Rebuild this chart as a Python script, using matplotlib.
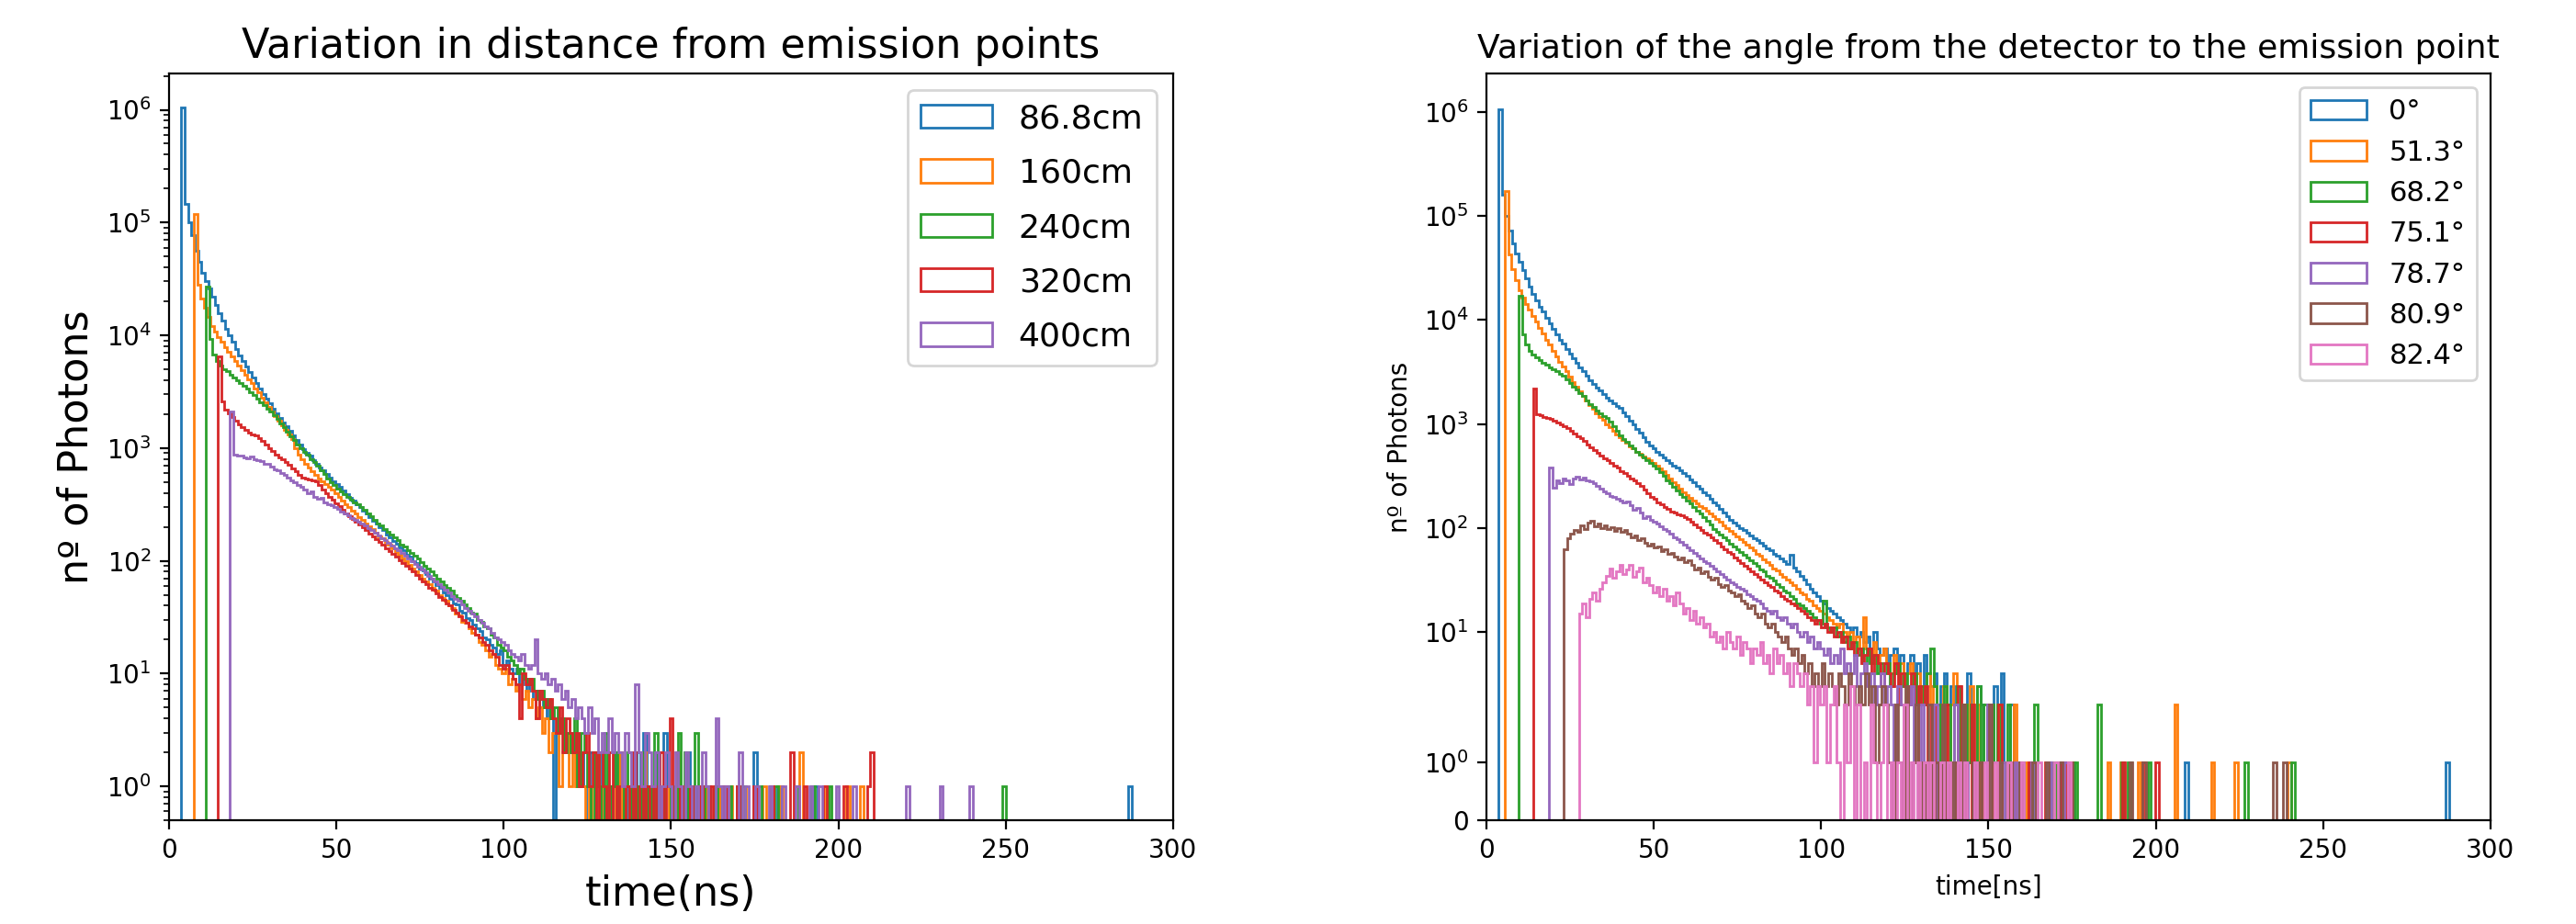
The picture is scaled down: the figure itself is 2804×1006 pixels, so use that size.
import numpy as np
import matplotlib
matplotlib.use("Agg")
import matplotlib.pyplot as plt

# ---------------------------------------------------------------------------
# Photon arrival-time histograms, 1 ns bins.
# Each series: arrival time of the first bin (ns), per-bin counts of the
# dense part, and (time, count) pairs for the sparse late tail.
# ---------------------------------------------------------------------------

# ----- distance scan -----
dist_labels = ["86.8cm", "160cm", "240cm", "320cm", "400cm"]
dist_t0 = [3.7, 7.4, 11.0, 14.55, 18.2]

dist_868 = [1050000, 145000, 100000, 78000, 56000, 45000, 36000, 30000, 26000, 22000,
            18600, 15800, 13500, 11500, 10000, 8700, 7600, 6600, 5900, 5250,
            4700, 4200, 3800, 3400, 3000, 2750, 2500, 2250, 2050, 1860,
            1700, 1550, 1410, 1290, 1170, 1070, 980, 910, 850, 780,
            720, 670, 630, 590, 550, 510, 480, 450, 420, 390,
            365, 340, 320, 300, 280, 262, 245, 228, 212, 198,
            186, 172, 163, 150, 142, 131, 124, 114, 108, 100,
            95, 86, 82, 76, 70, 66, 61, 58, 52, 50,
            46, 42, 41, 36, 35, 31, 30, 27, 25, 24,
            21, 20, 18, 17, 15, 16, 12, 13, 11, 10,
            11, 8, 9, 7, 8, 6, 7, 5, 6, 4,
            5, 0, 3, 4, 2, 3, 2, 3, 1, 2]
tail_868 = [(124, 1), (126, 2), (127, 1), (129, 2), (131, 1), (132, 1), (134, 2), (136, 1),
            (138, 1), (140, 2), (142, 3), (144, 1), (146, 2), (148, 3), (149, 1), (152, 1),
            (155, 2), (158, 1), (161, 1), (165, 1), (170, 1), (175.6, 2), (182, 1), (193, 1),
            (287, 1)]

dist_160 = [120000, 28000, 21000, 17500, 14500, 12000, 10800, 9700, 8800, 7900,
            7100, 6500, 5900, 5400, 4900, 4500, 4100, 3750, 3400, 3100,
            2800, 2550, 2330, 2120, 1930, 1760, 1600, 1460, 1330, 1200,
            1000, 880, 790, 720, 670, 620, 580, 540, 505, 475,
            450, 425, 395, 370, 345, 320, 298, 280, 262, 245,
            230, 216, 203, 190, 178, 166, 158, 146, 138, 128,
            120, 114, 105, 99, 92, 86, 80, 75, 70, 66,
            62, 58, 54, 50, 47, 44, 40, 38, 34, 33,
            29, 28, 25, 23, 22, 19, 18, 16, 14, 15,
            12, 11, 10, 11, 8, 9, 7, 8, 6, 7,
            5, 6, 4, 5, 3, 4, 2, 3, 3, 1,
            2, 3, 1, 2, 1]
tail_160 = [(123, 2), (124, 1), (126, 1), (128, 2), (130, 1), (133, 1), (135, 2), (137, 1),
            (139, 1), (142, 2), (144, 1), (147, 1), (150, 1), (152, 2), (156, 1), (160, 1),
            (164, 1), (168, 1), (172, 1), (178, 1), (183, 1), (189, 2), (196, 1), (203, 1),
            (207, 1)]

dist_240 = [27000, 9200, 6700, 5900, 5400, 5000, 4800, 4500, 4200, 4000,
            3800, 3550, 3350, 3150, 2950, 2750, 2550, 2400, 2250, 2100,
            1960, 1800, 1660, 1520, 1390, 1270, 1170, 1080, 1000, 930,
            870, 800, 750, 700, 640, 590, 540, 500, 470, 440,
            415, 390, 370, 350, 330, 315, 300, 285, 265, 250,
            232, 215, 205, 192, 182, 170, 162, 152, 140, 134,
            125, 118, 110, 104, 98, 91, 86, 80, 75, 70,
            66, 61, 58, 54, 50, 47, 44, 41, 38, 35,
            34, 30, 29, 26, 25, 22, 21, 18, 17, 16,
            14, 13, 12, 10, 11, 9, 8, 9, 7, 6,
            7, 5, 6, 4, 5, 3, 4, 2, 3, 2,
            4, 1, 3, 2, 1]
tail_240 = [(127, 2), (128, 1), (130, 3), (132, 1), (133, 2), (136, 1), (137, 2), (139, 1),
            (141, 2), (143, 1), (145, 3), (147, 1), (150, 1), (152, 3), (154, 2), (157, 3),
            (160, 1), (163, 1), (167, 1), (171, 1), (176, 1), (181, 1), (187, 1), (192, 1),
            (197, 1), (249, 1)]

dist_320 = [6500, 2600, 2200, 2050, 1900, 1750, 1620, 1520, 1440, 1380,
            1330, 1290, 1220, 1150, 1070, 1000, 940, 880, 830, 790,
            750, 710, 660, 620, 580, 550, 540, 525, 515, 505,
            470, 430, 400, 370, 350, 325, 305, 285, 265, 250,
            235, 222, 210, 198, 186, 175, 165, 156, 146, 138,
            130, 122, 115, 108, 102, 96, 90, 85, 80, 75,
            70, 66, 62, 58, 55, 51, 48, 45, 42, 40,
            37, 35, 32, 30, 28, 26, 25, 22, 21, 19,
            18, 16, 15, 14, 12, 11, 12, 10, 9, 8,
            4, 10, 8, 9, 7, 4, 7, 6, 5, 6,
            4, 3, 5, 2, 4, 3, 2, 3, 1, 2,
            3, 1, 2, 0, 2, 1]
tail_320 = [(132, 2), (134, 1), (137, 1), (139, 2), (141, 1), (143, 1), (145, 1), (147, 2),
            (149, 1), (150.2, 4), (153, 1), (156, 1), (159, 1), (162, 1), (166, 1), (170, 1),
            (175, 1), (180, 1), (185.6, 2), (190, 1), (196, 1), (202, 1), (208.7, 1), (210.2, 2)]

dist_400 = [2100, 870, 850, 860, 830, 815, 840, 800, 780, 770,
            730, 720, 680, 650, 640, 600, 580, 550, 520, 500,
            470, 450, 430, 400, 410, 370, 355, 360, 330, 320,
            310, 300, 290, 275, 262, 255, 240, 232, 222, 214,
            205, 196, 186, 178, 168, 160, 152, 145, 137, 130,
            124, 117, 111, 105, 99, 94, 88, 83, 79, 74,
            70, 66, 62, 59, 55, 52, 49, 46, 44, 41,
            38, 36, 34, 32, 30, 28, 26, 25, 23, 21,
            20, 19, 18, 16, 15, 14, 13, 15, 12, 11,
            12, 20, 10, 9, 10, 8, 9, 7, 8, 6,
            7, 5, 6, 4, 5, 4, 3, 5, 3, 4,
            2, 3, 2, 4, 2, 3, 2, 1, 3, 2,
            1, 8]
tail_400 = [(141, 2), (142, 1), (143, 3), (144, 2), (145, 1), (146, 2), (148, 1), (149, 2),
            (150, 1), (152, 2), (153, 1), (155, 2), (156, 1), (158, 1), (160, 2), (161, 1),
            (163.7, 4), (165, 1), (167, 1), (170.2, 2), (173, 1), (176, 1), (180, 1), (184, 1),
            (188, 1), (192, 1), (195, 1), (200, 1), (205, 1), (220.2, 1), (230.4, 1), (239.2, 1)]

# ----- angle scan -----
angle_labels = ["0°", "51.3°", "68.2°", "75.1°", "78.7°", "80.9°", "82.4°"]
angle_t0 = [3.6, 5.5, 9.6, 13.9, 18.75, 23.1, 27.7]

ang_00 = [1070000, 160000, 100000, 72000, 55000, 44000, 36000, 30000, 25000, 21000,
          18000, 15500, 13500, 12000, 10500, 9300, 8200, 7300, 6500, 5900,
          5300, 4800, 4300, 3900, 3500, 3200, 2900, 2650, 2450, 2250,
          2100, 1950, 1800, 1700, 1600, 1500, 1420, 1300, 1190, 1080,
          990, 900, 820, 750, 680, 620, 580, 540, 510, 480,
          450, 425, 400, 380, 360, 340, 318, 295, 275, 255,
          238, 222, 207, 192, 178, 165, 152, 140, 130, 121,
          113, 106, 100, 95, 90, 85, 80, 76, 72, 68,
          64, 61, 57, 54, 51, 48, 45, 55, 42, 38,
          35, 32, 29, 26, 24, 22, 20, 19, 17, 16,
          15, 14, 13, 12, 11, 10, 11, 9, 10, 8,
          9, 7, 10, 7, 6, 7, 5, 6, 7, 5,
          6, 4, 5, 6, 4, 5, 3, 6, 4, 3,
          4, 2, 3, 4, 2, 3, 2, 3, 1, 2,
          4, 2, 1, 3, 2, 1, 2, 1, 3, 1,
          4, 1]
tail_00 = [(157, 2), (160, 1), (163, 1), (168, 1), (171, 1), (175, 1), (209, 1), (287, 1)]

ang_513 = [175000, 43000, 31000, 24000, 19500, 16500, 14200, 12500, 11000, 9600,
           8400, 7400, 6500, 5800, 5100, 4500, 4000, 3600, 3200, 2850,
           2550, 2300, 2050, 1850, 1680, 1530, 1400, 1280, 1180, 1090,
           1000, 930, 860, 800, 745, 700, 655, 615, 580, 545,
           515, 490, 465, 445, 425, 400, 375, 350, 325, 300,
           278, 258, 240, 222, 207, 195, 184, 174, 164, 155,
           146, 138, 130, 122, 114, 107, 100, 94, 88, 83,
           78, 73, 69, 65, 61, 57, 54, 50, 47, 44,
           41, 39, 36, 34, 32, 30, 28, 26, 24, 23,
           21, 20, 18, 17, 16, 15, 14, 13, 12, 11,
           12, 10, 9, 10, 8, 9, 7, 14, 7, 6,
           8, 5, 6, 7, 5, 4, 6, 4, 5, 3,
           4, 5, 3, 4, 2, 3, 4, 2, 3, 1,
           2, 3, 1, 2, 4, 2, 1, 2, 1, 3,
           1, 2, 0, 1, 2, 1, 0, 2, 1, 1]
tail_513 = [(158, 2), (161, 1), (170, 1), (175, 1), (186, 1), (190, 1), (195, 1), (206, 2),
            (216.7, 1), (224, 1), (240, 1)]

ang_682 = [17000, 7300, 5800, 5100, 4700, 4400, 4100, 3900, 3700, 3500,
           3350, 3200, 3050, 2900, 2700, 2500, 2300, 2150, 2000, 1850,
           1700, 1560, 1450, 1350, 1270, 1200, 1150, 1050, 950, 860,
           780, 720, 670, 620, 580, 540, 510, 480, 450, 425,
           400, 375, 345, 315, 290, 268, 248, 230, 212, 198,
           185, 172, 160, 148, 138, 128, 118, 108, 98, 92,
           86, 81, 76, 71, 67, 63, 59, 55, 52, 49,
           46, 43, 40, 38, 35, 33, 31, 29, 27, 25,
           24, 22, 21, 19, 18, 17, 16, 15, 14, 13,
           12, 20, 11, 10, 11, 9, 10, 8, 9, 7,
           8, 6, 7, 5, 7, 5, 6, 4, 5, 4,
           5, 3, 4, 5, 3, 4, 2, 3, 4, 2,
           3, 2, 4, 7, 3, 2, 1, 3, 2, 1,
           2, 3, 1, 2, 1, 2, 1, 3, 1, 2,
           1, 2, 1, 2]
tail_682 = [(156, 2), (160, 1), (164, 2), (170, 1), (176, 1), (183, 2), (190, 1), (192, 1),
            (198, 1), (227, 1), (240.8, 1)]

ang_751 = [2200, 1250, 1220, 1180, 1150, 1120, 1080, 1040, 1000, 960,
           910, 860, 810, 770, 730, 690, 640, 600, 560, 530,
           500, 470, 445, 420, 400, 380, 355, 335, 315, 300,
           285, 270, 255, 235, 215, 200, 190, 178, 168, 160,
           152, 145, 140, 135, 132, 128, 122, 115, 108, 101,
           96, 91, 86, 81, 76, 72, 67, 63, 59, 56,
           52, 49, 46, 43, 41, 38, 36, 34, 32, 30,
           28, 27, 25, 24, 22, 21, 20, 19, 18, 17,
           16, 15, 14, 13, 12, 13, 11, 12, 10, 11,
           9, 10, 8, 9, 7, 8, 6, 7, 5, 6,
           7, 4, 6, 5, 3, 5, 4, 3, 5, 2,
           4, 3, 2, 4, 1, 3, 2, 3, 1, 2]
tail_751 = [(135, 1), (137, 2), (139, 1), (141, 3), (143, 1), (145, 2), (147, 1), (150, 1),
            (153, 2), (157, 1), (162, 1), (167, 1), (172, 1), (190, 1), (196, 1), (200, 1)]

ang_787 = [380, 245, 290, 270, 300, 285, 265, 300, 310, 295,
           305, 290, 280, 270, 255, 240, 225, 215, 205, 200,
           190, 185, 178, 180, 165, 150, 155, 140, 125, 130,
           120, 115, 110, 104, 98, 93, 88, 82, 78, 73,
           69, 65, 61, 58, 54, 51, 48, 46, 43, 41,
           38, 36, 34, 32, 30, 29, 27, 26, 25, 23,
           22, 21, 20, 19, 17, 16, 15, 16, 14, 13,
           14, 12, 11, 12, 10, 9, 10, 8, 9, 7,
           8, 7, 6, 7, 5, 6, 5, 7, 4, 5,
           4, 6, 3, 4, 5, 3, 4, 2, 3, 4,
           2, 3, 2, 1, 3, 2, 1, 2, 3, 1]
tail_787 = [(130, 2), (132, 1), (134, 2), (137, 1), (140, 2), (143, 1), (146, 1), (150, 2),
            (154, 1), (158, 1), (163, 1), (168, 1), (173, 1)]

ang_809 = [62, 80, 88, 95, 92, 105, 98, 112, 118, 104,
           110, 100, 106, 97, 102, 94, 99, 92, 96, 88,
           82, 85, 76, 80, 72, 68, 71, 65, 67, 60,
           62, 56, 58, 53, 50, 52, 47, 49, 44, 40,
           42, 37, 38, 34, 32, 33, 29, 27, 28, 25,
           24, 22, 23, 20, 19, 17, 18, 15, 14, 15,
           12, 11, 12, 10, 9, 8, 9, 7, 6, 7,
           5, 6, 4, 5, 3, 4, 3, 5, 3, 4,
           3, 2, 4, 3, 2, 4, 3, 2, 3, 2,
           4, 2, 3, 1, 2, 3]
tail_809 = [(120, 2), (121, 1), (123, 2), (124, 1), (126, 3), (128, 1), (129, 2), (131, 1),
            (133, 2), (135, 1), (137, 2), (139, 1), (141, 1), (143, 2), (146, 1), (148, 1),
            (151, 2), (154, 1), (157, 1), (160, 1), (164, 1), (168, 1), (172, 1), (175, 1),
            (193, 1), (197, 1), (235.3, 1), (238.4, 1)]

ang_824 = [15, 19, 14, 21, 24, 20, 26, 30, 35, 41,
           33, 38, 44, 36, 40, 44, 34, 38, 42, 30,
           33, 28, 24, 27, 22, 26, 20, 22, 18, 24,
           19, 15, 17, 13, 16, 12, 14, 11, 12, 9,
           10, 8, 9, 7, 10, 8, 7, 9, 6, 8,
           7, 5, 7, 6, 8, 5, 6, 4, 7, 5,
           6, 4, 5, 3, 5, 4, 3, 4, 2, 3,
           1, 3, 2, 3, 1, 2, 3, 1, 0, 2,
           1, 3, 0, 2]
tail_824 = [(113, 1), (115, 2), (116, 1), (118, 1), (119, 2), (121, 1), (123, 1), (125, 2),
            (127, 1), (129, 1), (131, 1), (133, 1), (136, 1), (138, 1), (141, 1), (143, 1),
            (146, 1), (149, 1), (152, 1), (156, 1), (160, 1), (165, 1), (170, 1), (174, 1)]

dist_dense = [dist_868, dist_160, dist_240, dist_320, dist_400]
dist_tails = [tail_868, tail_160, tail_240, tail_320, tail_400]
angle_dense = [ang_00, ang_513, ang_682, ang_751, ang_787, ang_809, ang_824]
angle_tails = [tail_00, tail_513, tail_682, tail_751, tail_787, tail_809, tail_824]

BIN_WIDTH = 1.0


def binned(t0, dense, tail):
    """Return (edges, counts) for one series on 1 ns bins starting at t0."""
    idx_tail = [int((t - t0) // BIN_WIDTH) for t, _ in tail]
    n = max([len(dense)] + [i + 1 for i in idx_tail])
    counts = np.zeros(n)
    counts[:len(dense)] = dense
    for i, (_, c) in zip(idx_tail, tail):
        counts[i] += c
    edges = t0 + BIN_WIDTH * np.arange(n + 1)
    return edges, counts


W, H, DPI = 2804, 1006, 200
fig = plt.figure(figsize=(W / DPI, H / DPI), dpi=DPI)

ax1 = fig.add_axes([0.0656, 0.1123, 0.3898, 0.8082])
ax2 = fig.add_axes([0.5770, 0.1123, 0.3898, 0.8082])

# Left: distance scan, log scale
for t0, dense, tail, lab in zip(dist_t0, dist_dense, dist_tails, dist_labels):
    edges, counts = binned(t0, dense, tail)
    ax1.hist(edges[:-1] + BIN_WIDTH / 2, bins=edges, weights=counts,
             histtype="step", log=True, label=lab)
ax1.set_xlim(0, 300)
ax1.set_title("Variation in distance from emission points", fontsize=16)
ax1.set_xlabel("time(ns)", fontsize=16)
ax1.set_ylabel("nº of Photons", fontsize=16)
ax1.legend(loc="upper right", fontsize=13, labelspacing=0.7, handlelength=2.15)

# Right: angle scan, symmetric log scale
ax2.set_yscale("symlog")
for t0, dense, tail, lab in zip(angle_t0, angle_dense, angle_tails, angle_labels):
    edges, counts = binned(t0, dense, tail)
    ax2.hist(edges[:-1] + BIN_WIDTH / 2, bins=edges, weights=counts,
             histtype="step", label=lab)
ax2.set_xlim(0, 300)
ax2.set_title("Variation of the angle from the detector to the emission point", fontsize=13)
ax2.set_xlabel("time[ns]")
ax2.set_ylabel("nº of Photons")
ax2.legend(loc="upper right", fontsize=11)

fig.savefig("out.png", dpi=DPI)
